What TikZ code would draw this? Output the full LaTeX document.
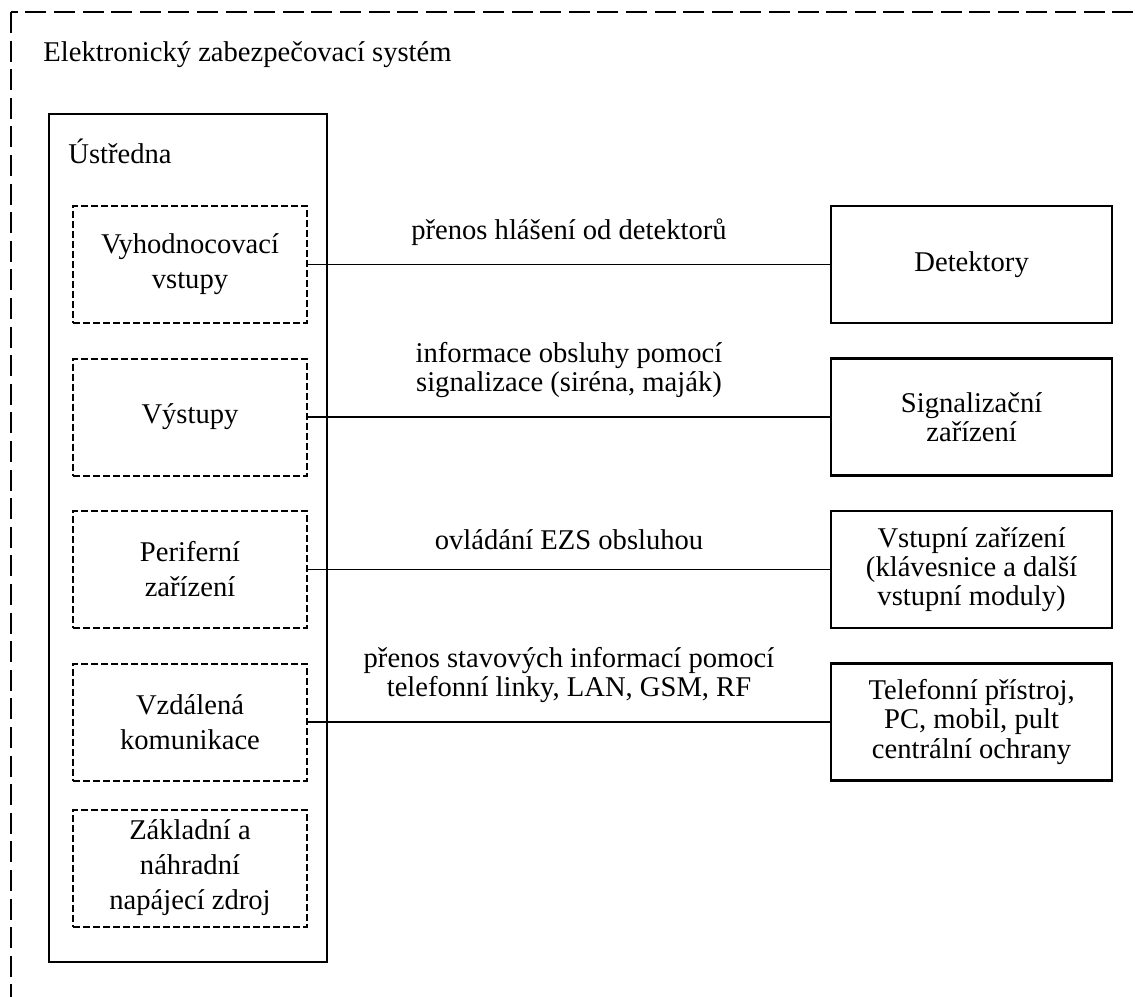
\documentclass[tikz,border=0pt]{standalone}
\usepackage{fontspec}
\setmainfont{Liberation Serif}
\usetikzlibrary{positioning}

\begin{document}
\begin{tikzpicture}[
    x=0.5pt, y=-0.5pt,
    node distance=16.75pt and 261pt,
    modul/.style={draw, dash pattern=on 3.5pt off 1.5pt, line width=1pt, minimum width=117pt, minimum height=58.5pt, align=center, font=\fontsize{14.3}{17.5}\selectfont},
    zariz/.style={draw, line width=1.1pt, minimum width=140.5pt, minimum height=58.5pt, align=center, font=\fontsize{14.3}{14.6}\selectfont},
    popis/.style={midway, above=6pt, align=center, font=\fontsize{14.3}{14.6}\selectfont},
    spoj/.style={line width=0.65pt},
    font=\fontsize{14.3}{17.5}\selectfont,
]
    \useasboundingbox (0,0) rectangle (1135,996);
    \clip (0,0) rectangle (1135,996);

    % cely system
    \draw[line width=1pt, dash pattern=on 10.5pt off 3.8pt] (11,12) rectangle (1170,1030);
    \node[anchor=base west, inner sep=0pt] (ezs) at (43,61) {Elektronický zabezpečovací systém};

    % ustredna
    \node[draw, line width=1.1pt, minimum width=139pt, minimum height=424pt] (ustr) at (188,538) {};
    \node[anchor=base west, inner sep=0pt] (ustr-t) at (68,163) {Ústředna};

    \node[modul]                   (vyh) at (190,264.5) {Vyhodnocovací\\vstupy};
    \node[modul, below=of vyh]     (vys) {Výstupy};
    \node[modul, below=of vys]     (per) {Periferní\\zařízení};
    \node[modul, below=of per]     (vzd) {Vzdálená\\komunikace};
    \node[modul, below=13.5pt of vzd] (nap) {Základní a\\náhradní\\napájecí zdroj};

    % zarizeni
    \node[zariz, right=of vyh] (det) {Detektory};
    \node[zariz, right=of vys] (sig) {Signalizační\\zařízení};
    \node[zariz, right=of per] (vst) {Vstupní zařízení\\(klávesnice a další\\vstupní moduly)};
    \node[zariz, right=of vzd] (tel) {Telefonní přístroj,\\PC, mobil, pult\\centrální ochrany};

    \draw[spoj] (vyh) -- (det) node[popis] {přenos hlášení od detektorů};
    \draw[spoj] (vys) -- (sig) node[popis] {informace obsluhy pomocí\\signalizace (siréna, maják)};
    \draw[spoj] (per) -- (vst) node[popis] {ovládání EZS obsluhou};
    \draw[spoj] (vzd) -- (tel) node[popis] {přenos stavových informací pomocí\\telefonní linky, LAN, GSM, RF};
\end{tikzpicture}
\end{document}
